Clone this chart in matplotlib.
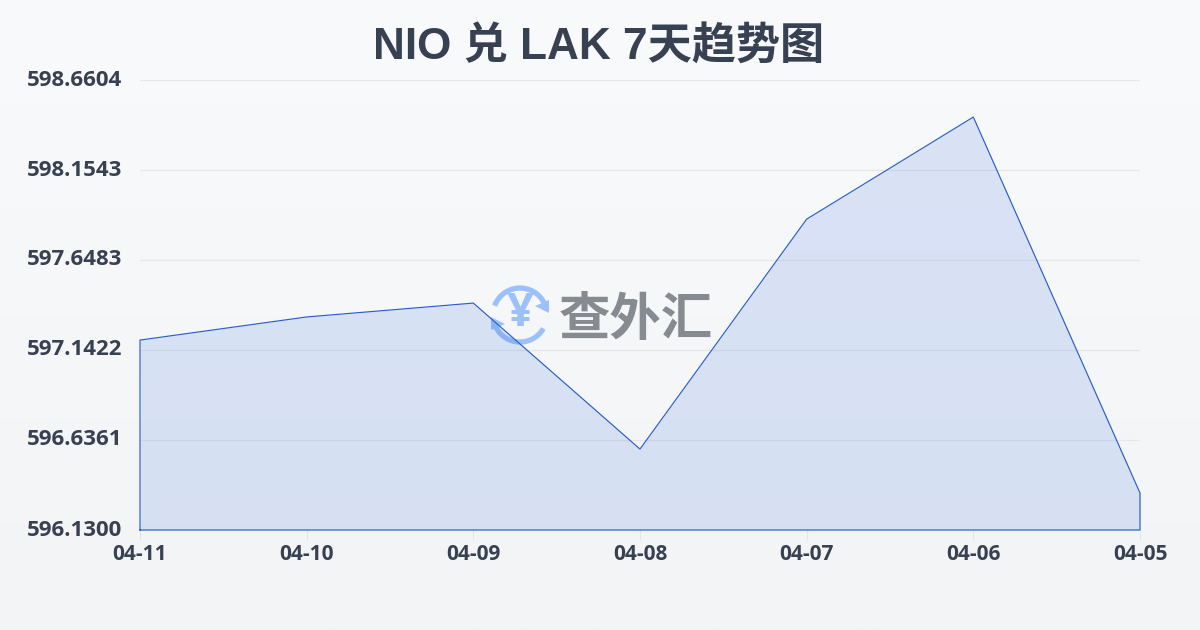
import matplotlib
matplotlib.use("Agg")
import matplotlib.pyplot as plt
from matplotlib.patches import Arc, Polygon
import numpy as np

dates = ["04-11", "04-10", "04-09", "04-08", "04-07", "04-06", "04-05"]
rates = [597.198, 597.328, 597.406, 596.585, 597.878, 598.452, 596.338]
y_ticks = [596.1300, 596.6361, 597.1422, 597.6483, 598.1543, 598.6604]
title = "NIO 兑 LAK 7天趋势图"

label_font = ["Open Sans", "Noto Sans CJK SC"]
title_font = ["Liberation Sans", "Noto Sans CJK SC"]
text_col = "#374151"
line_col = "#2b5fc7"

fig = plt.figure(figsize=(12, 6.3), dpi=100)

# background + logo live in a full figure axes in pixel units
bg = fig.add_axes([0, 0, 1, 1], zorder=0)
bg.set_xlim(0, 1200)
bg.set_ylim(630, 0)
bg.axis("off")
grad = np.linspace(0, 1, 256).reshape(-1, 1)
top = np.array([249, 250, 251]) / 255
bot = np.array([243, 244, 246]) / 255
bg.imshow(top + (bot - top) * grad[..., None], extent=[0, 1200, 630, 0], aspect="auto", zorder=0)

# chart
ax = fig.add_axes([140 / 1200, 1 - 530 / 630, 1000 / 1200, 450 / 630], zorder=1)
ax.patch.set_alpha(0)
x = np.arange(len(dates))
base = y_ticks[0]
ax.fill_between(x, rates, base, color="#2a66e0", alpha=0.145, lw=0, zorder=2)

# outline goes all the way round the area
ax.plot(np.r_[x[0], x, x[-1], x[0]], np.r_[base, rates, base, base],
        color=line_col, lw=0.85, zorder=4, clip_on=False)

ax.set_xlim(x[0], x[-1])
ax.set_ylim(y_ticks[0], y_ticks[-1])
ax.set_xticks(x)
ax.set_xticklabels(dates, family=label_font, fontweight="bold", fontsize=15, color=text_col)
ax.set_yticks(y_ticks)
ax.set_yticklabels([f"{v:.4f}" for v in y_ticks], family=label_font, fontweight="bold",
                   fontsize=16, color=text_col, va="center")
ax.grid(axis="y", color="#e5e7eb", lw=0.9, zorder=1)
ax.tick_params(axis="x", length=7, width=0.8, color="#e3e5e9", pad=3)
ax.tick_params(axis="y", length=0, pad=13)
for s in ax.spines.values():
    s.set_visible(False)

fig.text(598.5 / 1200, 1 - 47 / 630, title, ha="center", va="center", fontsize=31.8, fontweight="bold",
         family=title_font, color=text_col)

# watermark
logo = "#9cc0fb"
cx, cy, r = 520, 315, 27
bg.add_patch(Arc((cx, cy), 2 * r, 2 * r, theta1=200, theta2=345, color=logo, lw=3.8, zorder=3))
bg.add_patch(Arc((cx, cy), 2 * r, 2 * r, theta1=30, theta2=165, color=logo, lw=3.8, zorder=3))
bg.add_patch(Polygon([[549, 300], [549, 313], [535, 306]], color=logo, lw=0, zorder=3))
bg.add_patch(Polygon([[491, 330], [491, 317], [505, 324]], color=logo, lw=0, zorder=3))
bg.text(520, 314, "¥", ha="center", va="center", fontsize=34, fontweight="bold",
        family=label_font, color=logo, zorder=3)
bg.text(636, 319, "查外汇", ha="center", va="center", fontsize=37, fontweight="bold",
        family="Noto Sans CJK SC", color="#868a91", zorder=3)

fig.savefig("out.png", dpi=100)
